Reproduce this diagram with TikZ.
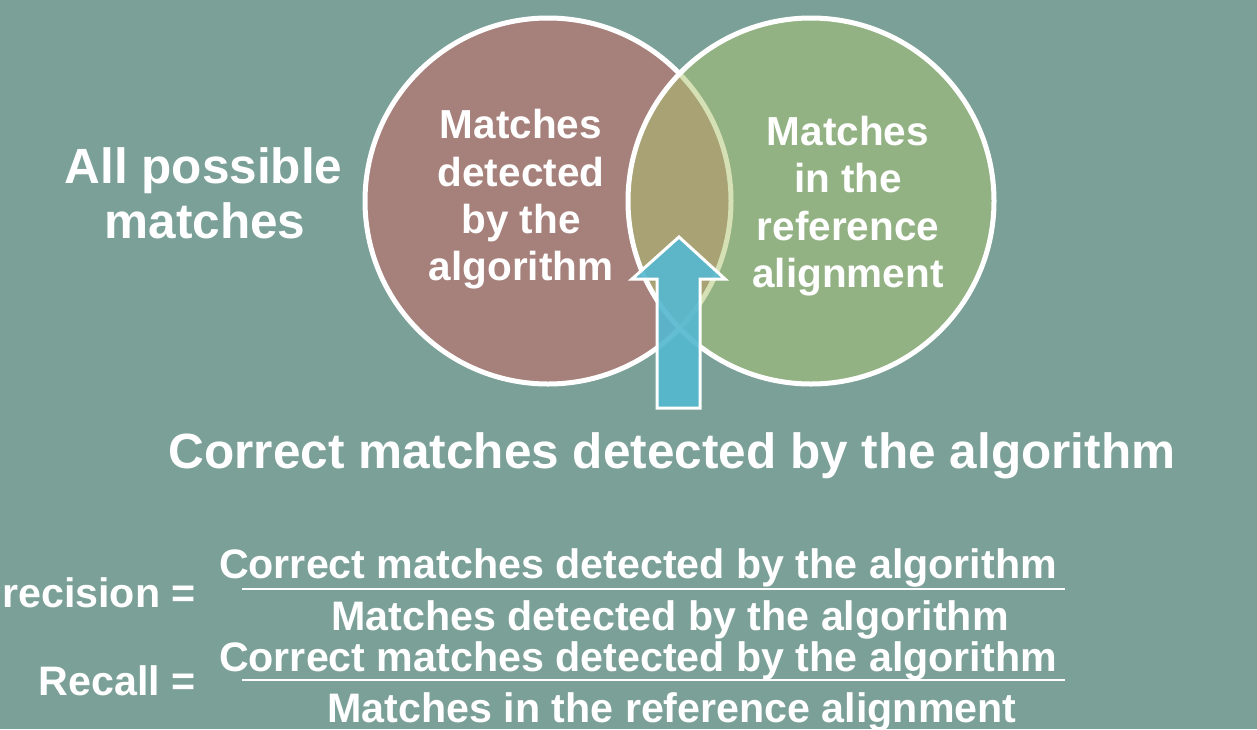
\documentclass[tikz,border=0pt]{standalone}
\usepackage{fontspec}
\setmainfont{Liberation Sans}
\definecolor{bg}{HTML}{7BA098}
\definecolor{redc}{HTML}{A6807A}
\definecolor{greenc}{HTML}{93B283}
\definecolor{overc}{HTML}{A8A274}
\definecolor{palec}{HTML}{D5E0B5}
\definecolor{arrowc}{HTML}{56B8D0}
\begin{document}
\begin{tikzpicture}[x=1pt,y=-1pt,
  lbl/.style={text=white,font=\bfseries\fontsize{40.5}{47.5}\selectfont,anchor=base,inner sep=0pt},
  side/.style={text=white,font=\bfseries\fontsize{49.5}{58}\selectfont,anchor=base,inner sep=0pt},
  big/.style={text=white,font=\bfseries\fontsize{49.5}{58}\selectfont,anchor=base,inner sep=0pt},
  frac/.style={text=white,font=\bfseries\fontsize{41.2}{48}\selectfont,anchor=base,inner sep=0pt},
  ring/.style={draw=white,line width=5pt},
  fracline/.style={draw=white,line width=2pt}]
\useasboundingbox (0,0) rectangle (1257,729);
\fill[bg] (0,0) rectangle (1257,729);
% Venn circles
\coordinate (cl) at (548,201);
\coordinate (cr) at (811,201);
\fill[redc] (cl) circle[radius=183pt];
\draw[ring] (cl) circle[radius=183pt];
\fill[greenc] (cr) circle[radius=183pt];
\begin{scope}
  \clip (cl) circle[radius=183pt];
  \fill[overc] (cr) circle[radius=183pt];
\end{scope}
\begin{scope}
  \clip (cr) circle[radius=183pt];
  \draw[palec,line width=5pt] (cl) circle[radius=183pt];
\end{scope}
\draw[ring] (cr) circle[radius=183pt];
% block arrow
\coordinate (a1) at (657,408);
\coordinate (a2) at (657,279);
\coordinate (a3) at (632,279);
\coordinate (tip) at (679,237);
\coordinate (a5) at (725,279);
\coordinate (a6) at (700,279);
\coordinate (a7) at (700,408);
\draw[draw=white,line width=3pt,fill=arrowc,fill opacity=0.92,line join=miter]
  (a1) -- (a2) -- (a3) -- (tip) -- (a5) -- (a6) -- (a7) -- cycle;
% left circle text
\node[lbl] (l1) at (521,138) {Matches};
\node[lbl] (l2) at (521,186) {detected};
\node[lbl] (l3) at (521,233) {by the};
\node[lbl] (l4) at (521,280) {algorithm};
% right circle text
\node[lbl] (r1) at (848,145) {Matches};
\node[lbl] (r2) at (848,192) {in the};
\node[lbl] (r3) at (848,240) {reference};
\node[lbl] (r4) at (848,287) {alignment};
% side text
\node[side] (s1) at (203.5,183) {All possible};
\node[side] (s2) at (205,238) {matches};
% title
\node[big] (title) at (672,468) {Correct matches detected by the algorithm};
% precision
\node[frac,anchor=base east] (pl) at (196,607) {Precision =};
\node[frac] (pn) at (638,578) {Correct matches detected by the algorithm};
\coordinate (pL) at (242,589);
\coordinate (pR) at (1065,589);
\draw[fracline] (pL) -- (pR);
\node[frac] (pd) at (670,630) {Matches detected by the algorithm};
% recall
\node[frac,anchor=base east] (rl) at (196,695) {Recall =};
\node[frac] (rn) at (638,671) {Correct matches detected by the algorithm};
\coordinate (rL) at (242,680);
\coordinate (rR) at (1065,680);
\draw[fracline] (rL) -- (rR);
\node[frac] (rd) at (672,722) {Matches in the reference alignment};
\end{tikzpicture}
\end{document}
